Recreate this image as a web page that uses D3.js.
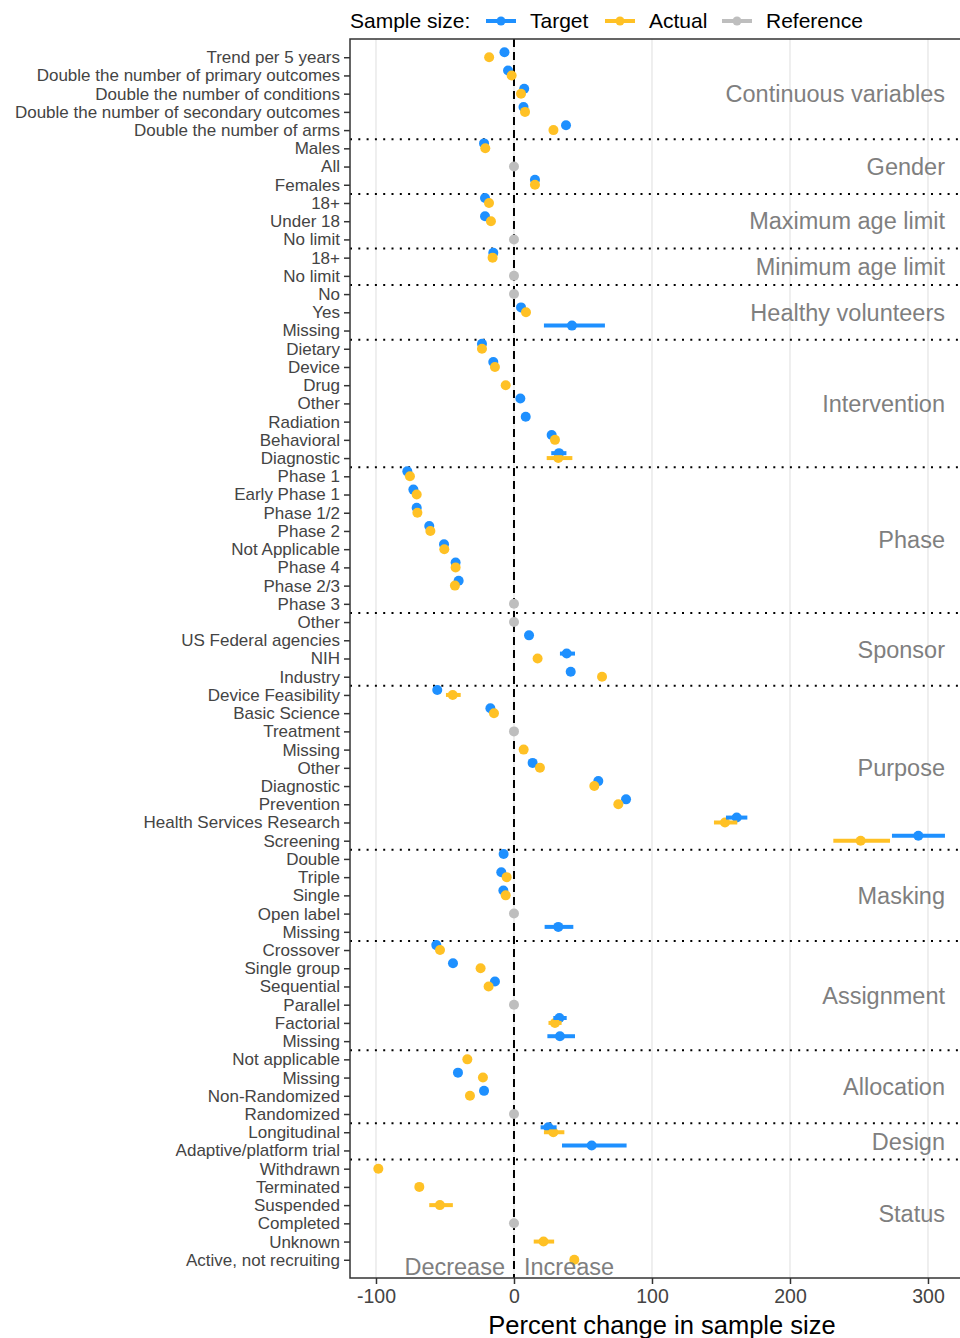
<!DOCTYPE html>
<html><head><meta charset="utf-8">
<script src="https://cdn.jsdelivr.net/npm/d3@7"></script>
<style>
html,body{margin:0;padding:0;background:#fff;}
svg{display:block;font-family:"Liberation Sans",Arial,sans-serif;}
</style></head>
<body>
<svg id="chart" width="960" height="1338"></svg>
<script>
// ---------------- data ----------------
const groupNames = ["Continuous variables","Gender","Maximum age limit","Minimum age limit","Healthy volunteers","Intervention","Phase","Sponsor","Purpose","Masking","Assignment","Allocation","Design","Status"];
const groupCategories = [
  ["Trend per 5 years","Double the number of primary outcomes","Double the number of conditions","Double the number of secondary outcomes","Double the number of arms"],
  ["Males","All","Females"],
  ["18+","Under 18","No limit"],
  ["18+","No limit"],
  ["No","Yes","Missing"],
  ["Dietary","Device","Drug","Other","Radiation","Behavioral","Diagnostic"],
  ["Phase 1","Early Phase 1","Phase 1/2","Phase 2","Not Applicable","Phase 4","Phase 2/3","Phase 3"],
  ["Other","US Federal agencies","NIH","Industry"],
  ["Device Feasibility","Basic Science","Treatment","Missing","Other","Diagnostic","Prevention","Health Services Research","Screening"],
  ["Double","Triple","Single","Open label","Missing"],
  ["Crossover","Single group","Sequential","Parallel","Factorial","Missing"],
  ["Not applicable","Missing","Non-Randomized","Randomized"],
  ["Longitudinal","Adaptive/platform trial"],
  ["Withdrawn","Terminated","Suspended","Completed","Unknown","Active, not recruiting"]
];
// one entry per category row, in the order above (null = not shown)
const targetValues = [
  -6.9,-4.3,7.4,6.9,37.7,
  -21.7,null,15.2,
  -21.0,-21.0,null,
  -15.0,null,
  null,5.1,42.0,
  -23.2,-15.0,null,4.6,8.5,27.3,32.6,
  -77.3,-72.9,-70.5,-61.4,-50.7,-42.3,-40.1,null,
  null,10.9,38.2,41.1,
  -55.6,-17.1,null,null,13.5,61.1,81.2,161.4,293.0,
  -7.5,-9.2,-7.7,null,32.1,
  -56.3,-44.2,-13.8,null,32.9,33.3,
  null,-40.6,-21.7,null,
  24.9,56.3,
  null,null,null,null,null,null
];
const targetLow = [
  null,null,null,null,null,
  null,null,null,
  null,null,null,
  null,null,
  null,null,21.7,
  null,null,null,null,null,null,27.0,
  null,null,null,null,null,null,null,null,
  null,null,33.3,null,
  null,null,null,null,null,null,null,153.6,273.9,
  null,null,null,null,22.2,
  null,null,null,null,28.5,24.2,
  null,null,null,null,
  19.3,34.8,
  null,null,null,null,null,null
];
const targetHigh = [
  null,null,null,null,null,
  null,null,null,
  null,null,null,
  null,null,
  null,null,65.9,
  null,null,null,null,null,null,38.0,
  null,null,null,null,null,null,null,null,
  null,null,44.2,null,
  null,null,null,null,null,null,null,169.1,312.3,
  null,null,null,null,43.0,
  null,null,null,null,38.2,44.2,
  null,null,null,null,
  30.9,81.6,
  null,null,null,null,null,null
];
const actualValues = [
  -18.0,-1.7,5.1,8.0,28.6,
  -20.8,null,15.2,
  -18.1,-16.7,null,
  -15.5,null,
  null,8.7,null,
  -23.2,-13.8,-6.0,null,null,29.7,32.1,
  -75.4,-70.5,-70.0,-60.6,-50.5,-42.3,-42.8,null,
  null,null,17.1,63.8,
  -44.4,-14.5,null,7.0,18.8,58.2,75.6,152.9,251.2,
  null,-5.3,-6.0,null,null,
  -53.6,-24.2,-18.4,null,29.7,null,
  -33.8,-22.5,-31.9,null,
  28.5,null,
  -98.3,-68.6,-53.7,null,21.4,43.7
];
const actualLow = [
  null,null,null,null,null,
  null,null,null,
  null,null,null,
  null,null,
  null,null,null,
  null,null,null,null,null,null,23.7,
  null,null,null,null,null,null,null,null,
  null,null,null,null,
  -49.3,null,null,null,null,null,null,144.9,231.4,
  null,null,null,null,null,
  null,null,null,null,25.0,null,
  null,-24.5,null,null,
  21.7,null,
  null,null,-61.4,null,14.3,null
];
const actualHigh = [
  null,null,null,null,null,
  null,null,null,
  null,null,null,
  null,null,
  null,null,null,
  null,null,null,null,null,null,42.3,
  null,null,null,null,null,null,null,null,
  null,null,null,null,
  -38.6,null,null,null,null,null,null,161.8,272.5,
  null,null,null,null,null,
  null,null,null,null,34.5,null,
  null,-20.5,null,null,
  36.5,null,
  null,null,-44.3,null,29.1,null
];
const referenceValues = [
  null,null,null,null,null,
  null,0,null,
  null,null,0,
  null,0,
  0,null,null,
  null,null,null,null,null,null,null,
  null,null,null,null,null,null,null,0,
  0,null,null,null,
  null,null,0,null,null,null,null,null,null,
  null,null,null,0,null,
  null,null,null,0,null,null,
  null,null,null,0,
  null,null,
  null,null,null,0,null,null
];
const xTicks = [-100, 0, 100, 200, 300];
const seriesNames = ["Target","Actual","Reference"];
const seriesColors = ["#1E90FF","#FFC125","#BEBEBE"];

// ---------------- build rows ----------------
const rows = [];
groupCategories.forEach((cats, g) => cats.forEach(c => rows.push({key: g + "|" + c, label: c, group: g})));
rows.forEach((r, i) => {
  r.t = targetValues[i]; r.tl = targetLow[i]; r.th = targetHigh[i];
  r.a = actualValues[i]; r.al = actualLow[i]; r.ah = actualHigh[i];
  r.r = referenceValues[i];
});

// ---------------- layout ----------------
const svg = d3.select("#chart");
const panel = {left: 350, top: 39, bottom: 1278};
const allVals = [];
rows.forEach(r => [r.t, r.tl, r.th, r.a, r.al, r.ah, r.r].forEach(v => { if (v !== null) allVals.push(v); }));
const [vmin, vmax] = d3.extent(allVals);
const pad = (vmax - vmin) * 0.05;
const pxPerUnit = 1.38;
const x = d3.scaleLinear().domain([vmin - pad, vmax + pad])
  .range([panel.left, panel.left + (vmax - vmin + 2 * pad) * pxPerUnit]);
const panelRight = x.range()[1];
const y = d3.scalePoint().domain(rows.map(r => r.key)).range([panel.top, panel.bottom]).padding(1);
const step = y.step();
const dodge = -0.27 * step;

svg.append("defs").append("clipPath").attr("id", "clipP")
  .append("rect").attr("x", panel.left).attr("y", panel.top)
  .attr("width", panelRight - panel.left).attr("height", panel.bottom - panel.top);

const pg = svg.append("g").attr("clip-path", "url(#clipP)");
// grid
pg.selectAll("line.grid").data(xTicks).join("line")
  .attr("x1", d => x(d)).attr("x2", d => x(d))
  .attr("y1", panel.top).attr("y2", panel.bottom)
  .attr("stroke", "#EBEBEB").attr("stroke-width", 1.6);

// group separators (dotted)
const seps = [];
for (let i = 1; i < rows.length; i++) if (rows[i].group !== rows[i - 1].group) seps.push((y(rows[i].key) + y(rows[i - 1].key)) / 2);
pg.selectAll("line.sep").data(seps).join("line")
  .attr("x1", panel.left).attr("x2", panelRight)
  .attr("y1", d => d).attr("y2", d => d)
  .attr("stroke", "#000").attr("stroke-width", 2).attr("stroke-dasharray", "2,6.3");

// zero line
pg.append("line").attr("x1", x(0)).attr("x2", x(0)).attr("y1", panel.top).attr("y2", panel.bottom)
  .attr("stroke", "#000").attr("stroke-width", 2).attr("stroke-dasharray", "8,5");

// points
const R = 5;
pg.selectAll("circle.t").data(rows.filter(r => r.t !== null)).join("circle")
  .attr("cx", d => x(d.t)).attr("cy", d => y(d.key) + dodge).attr("r", R).attr("fill", seriesColors[0]);
pg.selectAll("circle.a").data(rows.filter(r => r.a !== null)).join("circle")
  .attr("cx", d => x(d.a)).attr("cy", d => y(d.key)).attr("r", R).attr("fill", seriesColors[1]);
pg.selectAll("circle.r").data(rows.filter(r => r.r !== null)).join("circle")
  .attr("cx", d => x(d.r)).attr("cy", d => y(d.key)).attr("r", R).attr("fill", seriesColors[2]);
// error bars
pg.selectAll("line.tb").data(rows.filter(r => r.tl !== null)).join("line")
  .attr("x1", d => x(d.tl)).attr("x2", d => x(d.th))
  .attr("y1", d => y(d.key) + dodge).attr("y2", d => y(d.key) + dodge)
  .attr("stroke", seriesColors[0]).attr("stroke-width", 4);
pg.selectAll("line.ab").data(rows.filter(r => r.al !== null)).join("line")
  .attr("x1", d => x(d.al)).attr("x2", d => x(d.ah))
  .attr("y1", d => y(d.key)).attr("y2", d => y(d.key))
  .attr("stroke", seriesColors[1]).attr("stroke-width", 4);

// group labels
const grayText = "#7F7F7F";
groupNames.forEach((name, g) => {
  const ys = rows.filter(r => r.group === g).map(r => y(r.key));
  pg.append("text").attr("x", 945).attr("y", d3.mean(ys)).attr("dy", "0.35em")
    .attr("text-anchor", "end").attr("font-size", 23.5).attr("fill", grayText).text(name);
});
// decrease/increase
pg.append("text").attr("x", x(0) - 9).attr("y", 1267).attr("dy", "0.35em").attr("text-anchor", "end")
  .attr("font-size", 23.5).attr("fill", grayText).text("Decrease");
pg.append("text").attr("x", x(0) + 10).attr("y", 1267).attr("dy", "0.35em").attr("text-anchor", "start")
  .attr("font-size", 23.5).attr("fill", grayText).text("Increase");

// panel border
svg.append("rect").attr("x", panel.left).attr("y", panel.top)
  .attr("width", panelRight - panel.left).attr("height", panel.bottom - panel.top)
  .attr("fill", "none").attr("stroke", "#333").attr("stroke-width", 1.5);

// axes
const yAxis = d3.axisLeft(y).tickSize(6).tickPadding(4).tickFormat(k => rows.find(r => r.key === k).label);
const gy = svg.append("g").attr("transform", `translate(${panel.left},0)`).call(yAxis);
gy.select(".domain").remove();
gy.selectAll(".tick line").attr("stroke", "#333").attr("stroke-width", 1.5);
gy.selectAll(".tick text").attr("font-size", 17).attr("fill", "#444").attr("font-family", "Liberation Sans, Arial, sans-serif");

const xAxis = d3.axisBottom(x).tickValues(xTicks).tickSize(6).tickPadding(5).tickFormat(d => String(d));
const gx = svg.append("g").attr("transform", `translate(0,${panel.bottom})`).call(xAxis);
gx.select(".domain").remove();
gx.selectAll(".tick line").attr("stroke", "#333").attr("stroke-width", 1.5);
gx.selectAll(".tick text").attr("font-size", 19.5).attr("fill", "#444").attr("font-family", "Liberation Sans, Arial, sans-serif");

svg.append("text").attr("x", 662).attr("y", 1334).attr("text-anchor", "middle")
  .attr("font-size", 25.5).attr("fill", "#000").text("Percent change in sample size");

// legend
const lg = svg.append("g");
lg.append("text").attr("x", 350).attr("y", 21).attr("dy", "0.35em").attr("font-size", 21).attr("fill", "#000").text("Sample size:");
const keyX = [486, 605, 722];
seriesNames.forEach((s, i) => {
  lg.append("line").attr("x1", keyX[i]).attr("x2", keyX[i] + 30).attr("y1", 21).attr("y2", 21)
    .attr("stroke", seriesColors[i]).attr("stroke-width", 4);
  lg.append("circle").attr("cx", keyX[i] + 15).attr("cy", 21).attr("r", 4.5).attr("fill", seriesColors[i]);
  lg.append("text").attr("x", keyX[i] + 44).attr("y", 21).attr("dy", "0.35em").attr("font-size", 21).attr("fill", "#000").text(s);
});
</script>
</body></html>
